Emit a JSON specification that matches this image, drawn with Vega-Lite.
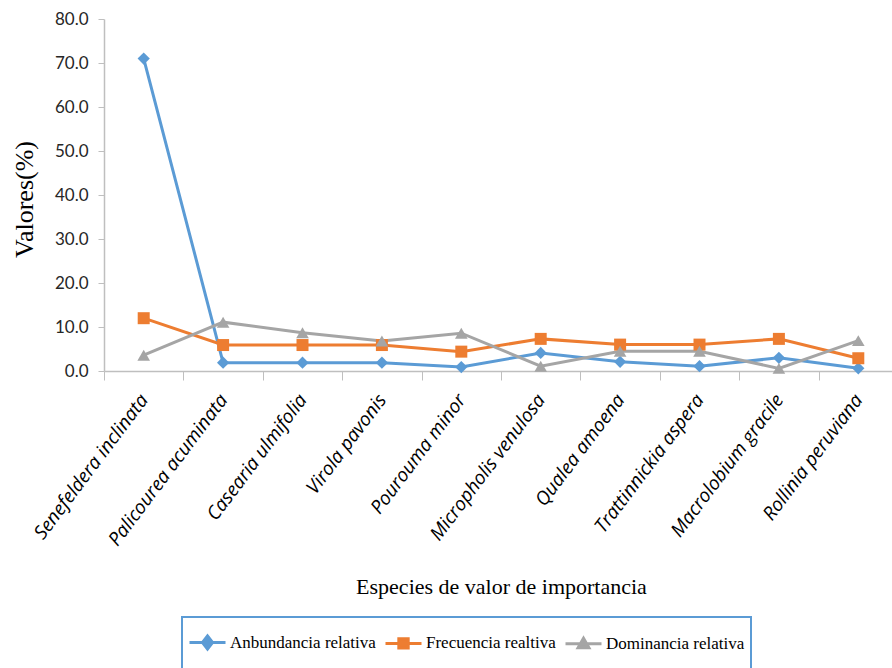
{
  "$schema": "https://vega.github.io/schema/vega-lite/v6.json",
  "width": 788,
  "height": 352,
  "autosize": {"type": "none"},
  "padding": {"left": 104, "top": 19, "right": 0, "bottom": 297},
  "background": "white",
  "config": {"view": {"stroke": null}},
  "data": {
    "values": [
      {"especie": "Senefeldera inclinata", "serie": "Anbundancia relativa", "valor": 71.0},
      {"especie": "Palicourea acuminata", "serie": "Anbundancia relativa", "valor": 1.9},
      {"especie": "Casearia ulmifolia", "serie": "Anbundancia relativa", "valor": 1.9},
      {"especie": "Virola pavonis", "serie": "Anbundancia relativa", "valor": 1.9},
      {"especie": "Pourouma minor", "serie": "Anbundancia relativa", "valor": 0.9},
      {"especie": "Micropholis venulosa", "serie": "Anbundancia relativa", "valor": 4.1},
      {"especie": "Qualea amoena", "serie": "Anbundancia relativa", "valor": 2.1},
      {"especie": "Trattinnickia aspera", "serie": "Anbundancia relativa", "valor": 1.1},
      {"especie": "Macrolobium gracile", "serie": "Anbundancia relativa", "valor": 3.0},
      {"especie": "Rollinia peruviana", "serie": "Anbundancia relativa", "valor": 0.6},
      {"especie": "Senefeldera inclinata", "serie": "Frecuencia realtiva", "valor": 12.0},
      {"especie": "Palicourea acuminata", "serie": "Frecuencia realtiva", "valor": 5.9},
      {"especie": "Casearia ulmifolia", "serie": "Frecuencia realtiva", "valor": 5.9},
      {"especie": "Virola pavonis", "serie": "Frecuencia realtiva", "valor": 5.9},
      {"especie": "Pourouma minor", "serie": "Frecuencia realtiva", "valor": 4.4},
      {"especie": "Micropholis venulosa", "serie": "Frecuencia realtiva", "valor": 7.3},
      {"especie": "Qualea amoena", "serie": "Frecuencia realtiva", "valor": 6.0},
      {"especie": "Trattinnickia aspera", "serie": "Frecuencia realtiva", "valor": 6.0},
      {"especie": "Macrolobium gracile", "serie": "Frecuencia realtiva", "valor": 7.3},
      {"especie": "Rollinia peruviana", "serie": "Frecuencia realtiva", "valor": 2.9},
      {"especie": "Senefeldera inclinata", "serie": "Dominancia relativa", "valor": 3.6},
      {"especie": "Palicourea acuminata", "serie": "Dominancia relativa", "valor": 11.1},
      {"especie": "Casearia ulmifolia", "serie": "Dominancia relativa", "valor": 8.7},
      {"especie": "Virola pavonis", "serie": "Dominancia relativa", "valor": 6.8},
      {"especie": "Pourouma minor", "serie": "Dominancia relativa", "valor": 8.6},
      {"especie": "Micropholis venulosa", "serie": "Dominancia relativa", "valor": 1.1},
      {"especie": "Qualea amoena", "serie": "Dominancia relativa", "valor": 4.5},
      {"especie": "Trattinnickia aspera", "serie": "Dominancia relativa", "valor": 4.5},
      {"especie": "Macrolobium gracile", "serie": "Dominancia relativa", "valor": 0.6},
      {"especie": "Rollinia peruviana", "serie": "Dominancia relativa", "valor": 6.9}
    ]
  },
  "encoding": {
    "x": {
      "field": "especie",
      "type": "nominal",
      "sort": null,
      "scale": {"range": [0, 794]},
      "axis": {
        "title": "Especies de valor de importancia",
        "titleFont": "Liberation Serif",
        "titleFontSize": 22,
        "titleFontWeight": "normal",
        "titleColor": "#000000",
        "titlePadding": 27,
        "labelAngle": -53,
        "labelAlign": "right",
        "labelBaseline": "middle",
        "labelFont": "Open Sans",
        "labelFontStyle": "italic",
        "labelFontSize": 19,
        "labelColor": "#000000",
        "labelPadding": 16,
        "labelLimit": 400,
        "labelOverlap": false,
        "tickBand": "extent",
        "tickSize": 9,
        "tickColor": "#bfbfbf",
        "domainColor": "#bfbfbf",
        "domainWidth": 1.5,
        "grid": false
      }
    },
    "y": {
      "field": "valor",
      "type": "quantitative",
      "scale": {"domain": [0, 80], "nice": false},
      "axis": {
        "title": "Valores(%)",
        "titleFont": "Liberation Serif",
        "titleFontSize": 26,
        "titleFontWeight": "normal",
        "titleColor": "#000000",
        "titlePadding": 17,
        "titleY": 180,
        "values": [0, 10, 20, 30, 40, 50, 60, 70, 80],
        "format": ".1f",
        "labelFont": "Lato",
        "labelFontSize": 17,
        "labelColor": "#262626",
        "labelPadding": 10,
        "tickSize": 6,
        "tickColor": "#bfbfbf",
        "domainColor": "#bfbfbf",
        "domainWidth": 1.5,
        "grid": false
      }
    },
    "color": {
      "field": "serie",
      "type": "nominal",
      "sort": null,
      "scale": {
        "domain": ["Anbundancia relativa", "Frecuencia realtiva", "Dominancia relativa"],
        "range": ["#5B9BD5", "#ED7D31", "#A5A5A5"]
      },
      "legend": {
        "title": " ",
        "titleOrient": "bottom",
        "titleFontSize": 16,
        "titlePadding": 4,
        "orient": "none",
        "direction": "horizontal",
        "legendX": 78,
        "legendY": 598,
        "padding": 6,
        "strokeColor": "#5B9BD5",
        "fillColor": "white",
        "symbolSize": 1296,
        "symbolStrokeWidth": 3,
        "symbolType": "M-1,0H1",
        "labelFont": "Liberation Serif",
        "labelFontSize": 17,
        "labelColor": "#000000",
        "labelOffset": 3,
        "columnPadding": 3,
        "labelLimit": 300,
        "encode": {
          "legend": {"update": {"strokeWidth": {"value": 2}}},
          "symbols": {
            "update": {
              "shape": {"signal": "datum.value === 'Anbundancia relativa' ? 'M-1,0H1M0,-0.36L0.28,0L0,0.36L-0.28,0Z' : (datum.value === 'Frecuencia realtiva' ? 'M-1,0H1M-0.26,-0.26H0.26V0.26H-0.26Z' : 'M-1,0H1M0,-0.3L0.3,0.22H-0.3Z')"},
              "fill": {"scale": "color", "field": "value"},
              "stroke": {"scale": "color", "field": "value"},
              "strokeWidth": {"value": 3},
              "opacity": {"value": 1}
            }
          }
        }
      }
    }
  },
  "layer": [
    {"mark": {"type": "line", "strokeWidth": 3}},
    {
      "transform": [{"filter": "datum.serie === 'Anbundancia relativa'"}],
      "mark": {"type": "point", "filled": true, "opacity": 1, "size": 150, "shape": "diamond"}
    },
    {
      "transform": [{"filter": "datum.serie === 'Frecuencia realtiva'"}],
      "mark": {"type": "point", "filled": true, "opacity": 1, "size": 144, "shape": "square"}
    },
    {
      "transform": [{"filter": "datum.serie === 'Dominancia relativa'"}],
      "mark": {"type": "point", "filled": true, "opacity": 1, "size": 160, "shape": "triangle-up"}
    }
  ]
}
